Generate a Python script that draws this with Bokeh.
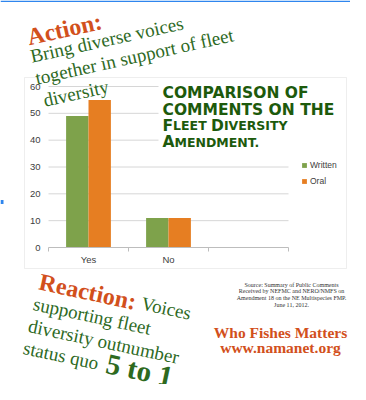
from bokeh.plotting import figure
from bokeh.models import (Range1d, LinearAxis, FixedTicker, Legend, LegendItem, Label,
                          BoxAnnotation, ColumnDataSource)
from bokeh.transform import dodge
from bokeh.embed import file_html
from bokeh.resources import INLINE

# ---- data ----
categories = ["Yes", "No"]
written = [49, 11]
oral = [55, 11]
series_names = ["Written", "Oral"]
y_ticks = [0, 10, 20, 30, 40, 50, 60]
n_slots = 3          # the chart reserves three category slots, the last one empty

# ---- layout (canvas pixels) ----
W, H = 350, 384
PL, PT, PR, PB = 48, 86, 288, 247      # plot area
YMAX = 60

GREEN_BAR = "#7ea24b"
ORANGE_BAR = "#e67e22"
TXT_GREEN = "#2e6a1f"
TITLE_GREEN = "#1d5a0c"
TXT_ORANGE = "#d2501c"
AXIS_GREY = "#bdbdbd"
GRID_GREY = "#d6d6d6"
SEL_BLUE = "#2f86ee"

ppx = (PR - PL) / n_slots
ppy = (PB - PT) / YMAX
p = figure(width=W, height=H,
           x_range=Range1d(-PL / ppx, (W - PL) / ppx),
           y_range=Range1d(-(H - PB) / ppy, YMAX + PT / ppy),
           output_backend="svg", toolbar_location=None,
           x_axis_location=None, y_axis_location=None,
           min_border=0, min_border_left=0, min_border_right=0,
           min_border_top=0, min_border_bottom=0)
p.outline_line_color = None
p.background_fill_color = "white"
p.border_fill_color = "white"
p.xgrid.visible = False
p.ygrid.visible = False

# y axis (labels only), fixed at the left edge of the plot area
yax = LinearAxis(fixed_location=0, bounds=(0, YMAX), ticker=FixedTicker(ticks=y_ticks),
                 axis_line_color=None, major_tick_line_color=None, minor_tick_line_color=None,
                 major_tick_out=0, major_tick_in=0, major_label_standoff=8,
                 major_label_text_font="Liberation Sans", major_label_text_font_size="9.5px",
                 major_label_text_color="#404040")
p.add_layout(yax, "left")

# x axis: category labels at slot centres, small ticks at slot boundaries
centers = [i + 0.5 for i in range(len(categories))]
xax = LinearAxis(fixed_location=0, bounds=(0, n_slots),
                 ticker=FixedTicker(ticks=centers, minor_ticks=list(range(n_slots + 1))),
                 major_label_overrides={c: lab for c, lab in zip(centers, categories)},
                 axis_line_color=AXIS_GREY, major_tick_line_color=None,
                 major_tick_out=0, major_tick_in=0,
                 minor_tick_line_color=AXIS_GREY, minor_tick_out=4, minor_tick_in=0,
                 major_label_standoff=2,
                 major_label_text_font="Liberation Sans", major_label_text_font_size="9.5px",
                 major_label_text_color="#404040")
p.add_layout(xax, "below")

# horizontal grid lines across the plot area
gsrc = ColumnDataSource(dict(y=[t for t in y_ticks if t > 0]))
p.segment(x0=0, x1=n_slots, y0="y", y1="y", source=gsrc, line_color=GRID_GREY, line_width=1)

src = ColumnDataSource(dict(pos=centers, cat=categories, written=written, oral=oral))
r1 = p.vbar(x=dodge("pos", -0.14), top="written", width=0.28, source=src,
            fill_color=GREEN_BAR, line_color=None)
r2 = p.vbar(x=dodge("pos", 0.14), top="oral", width=0.28, source=src,
            fill_color=ORANGE_BAR, line_color=None)


def sx(X):
    return X


def sy(Y):
    return H - Y


def box(l, t, r, b, **kw):
    p.add_layout(BoxAnnotation(left=sx(l), right=sx(r), top=sy(t), bottom=sy(b),
                               left_units="screen", right_units="screen",
                               top_units="screen", bottom_units="screen", **kw))


# selection marks of the original screenshot
box(0, 0, W, 1.5, fill_color=SEL_BLUE, fill_alpha=1, line_color=None)
box(0, 199.5, 3, 203.5, fill_color=SEL_BLUE, fill_alpha=1, line_color=None)
# chart border
box(24, 77, 346, 268, fill_color=None, fill_alpha=0, line_color="#c8c8c8", line_width=1)
# white title box
box(158, 78, 344, 150, fill_color="white", fill_alpha=1, line_color=None)

legend = Legend(items=[LegendItem(label=series_names[0], renderers=[r1]),
                       LegendItem(label=series_names[1], renderers=[r2])],
                location=(sx(301), sy(186)), padding=0, margin=0, spacing=6,
                glyph_width=6, glyph_height=6, label_height=10, label_standoff=3,
                label_text_font="Liberation Sans", label_text_font_size="8.5px",
                label_text_color="#404040", border_line_color=None,
                background_fill_alpha=0)
p.add_layout(legend)


def text(t, X, Y, size, color, font="Liberation Serif", style="normal", angle=0, align="left"):
    p.add_layout(Label(x=sx(X), y=sy(Y), x_units="screen", y_units="screen", text=t,
                       text_font=font, text_font_size=f"{size}px", text_color=color,
                       text_font_style=style, angle=angle, angle_units="deg",
                       text_align=align, text_baseline="alphabetic"))


# chart title in small caps (DejaVu Sans Bold)
CW = {"A": .774, "D": .830, "E": .683, "F": .683, "I": .371, "L": .638, "M": .995,
      "N": .837, "R": .770, "S": .720, "T": .682, "V": .774, "Y": .726, ".": .381, " ": .348,
      "C": .734, "O": .850, "P": .732, "H": .837, "G": .821}
BIG, SMALL = 15.5, 12.5
title_lines = [
    [("COMPARISON OF", BIG)],
    [("COMMENTS ON THE", BIG)],
    [("F", BIG), ("LEET ", SMALL), ("D", BIG), ("IVERSITY", SMALL)],
    [("A", BIG), ("MENDMENT.", SMALL)],
]
title_baselines = [92.5, 109, 125.3, 141.5]
for segs, yb in zip(title_lines, title_baselines):
    x = 162
    for t, s in segs:
        text(t, x, yb, s, TITLE_GREEN, font="DejaVu Sans", style="bold")
        x += sum(CW.get(c, .7) for c in t) * s

# Action block
text("Action:", 27, 37, 24, TXT_ORANGE, style="bold", angle=12.5)
text("Bring diverse voices", 30, 56, 19, TXT_GREEN, angle=12.5)
text("together in support of fleet", 35, 78, 19, TXT_GREEN, angle=12.5)
text("diversity", 43, 100, 19, TXT_GREEN, angle=12.5)

# Reaction block
text("Reaction:", 39, 281, 24, TXT_ORANGE, style="bold", angle=-12)
text("Voices", 141, 302.5, 19, TXT_GREEN, angle=-12)
text("supporting fleet", 33, 303, 19, TXT_GREEN, angle=-12)
text("diversity outnumber", 28, 325, 19, TXT_GREEN, angle=-12)
text("status quo", 23, 347, 19, TXT_GREEN, angle=-12)
text("5 to 1", 106, 362.5, 29, TXT_GREEN, style="bold", angle=-12)

# source note
src_lines = ["Source: Summary of Public Comments",
             "Received by NEFMC and NERO/NMFS on",
             "Amendment 18 on the NE Multispecies FMP.",
             "June 11, 2012."]
for i, t in enumerate(src_lines):
    text(t, 291, 284 + i * 6.8, 6, "#333333", align="center")

text("Who Fishes Matters", 280, 331.7, 15.5, TXT_ORANGE, style="bold", align="center")
text("www.namanet.org", 280, 347.3, 15.5, TXT_ORANGE, style="bold", align="center")

open("out.html", "w").write(file_html(p, INLINE))
